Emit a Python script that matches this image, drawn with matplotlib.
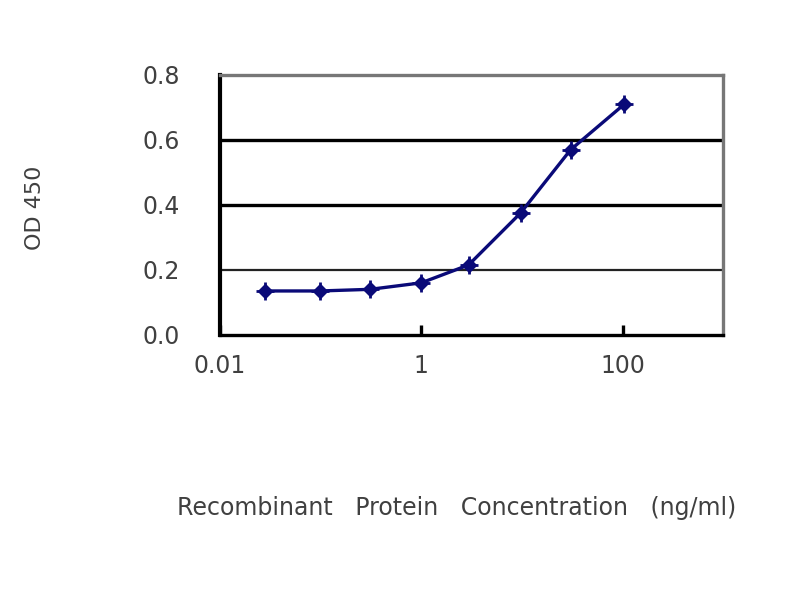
import matplotlib
matplotlib.use("Agg")
import matplotlib.pyplot as plt

# concentrations (ng/ml) and OD 450 readings
conc = [0.028, 0.099, 0.31, 1.0, 2.95, 9.7, 30.5, 104.0]
od450 = [0.135, 0.135, 0.14, 0.16, 0.215, 0.375, 0.57, 0.71]

x_ticks = [0.01, 1, 100]
x_tick_labels = ["0.01", "1", "100"]
y_ticks = [0.0, 0.2, 0.4, 0.6, 0.8]
y_tick_labels = ["0.0", "0.2", "0.4", "0.6", "0.8"]

text_color = "#404040"
navy = "#0a0a78"

fig = plt.figure(figsize=(8, 6), dpi=100)
ax = fig.add_axes([0.275, 0.442, 0.629, 0.433])

# horizontal grid lines
for y in y_ticks[1:-1]:
    if y > 0.3:
        ax.axhline(y, color="black", lw=2.4, zorder=1)
    else:
        ax.axhline(y, color="#222222", lw=1.6, zorder=1)

ax.plot(conc, od450, color=navy, lw=2.4, marker="D", markersize=7,
        markerfacecolor=navy, markeredgecolor=navy, zorder=3)
ax.plot(conc, od450, linestyle="none", marker="+", markersize=13,
        markeredgewidth=2, color=navy, zorder=4)

ax.set_xscale("log")
ax.set_xlim(0.01, 1000)
ax.set_ylim(0, 0.8)
ax.set_xticks(x_ticks)
ax.set_xticklabels(x_tick_labels)
ax.minorticks_off()
ax.set_yticks(y_ticks)
ax.set_yticklabels(y_tick_labels)

ax.tick_params(axis="x", direction="in", length=7, width=2.4, pad=14,
               labelsize=17, labelcolor=text_color)
ax.tick_params(axis="y", length=0, pad=29, labelsize=17, labelcolor=text_color)

ax.spines["left"].set_linewidth(3)
ax.spines["left"].set_color("black")
ax.spines["bottom"].set_linewidth(2.4)
ax.spines["bottom"].set_color("black")
for s in ("top", "right"):
    ax.spines[s].set_linewidth(2.4)
    ax.spines[s].set_color("#777777")

fig.text(0.044, 0.653, "OD 450", rotation=90, ha="center", va="center",
         fontsize=16, color=text_color)
fig.text(0.571, 0.153, "Recombinant   Protein   Concentration   (ng/ml)",
         ha="center", va="center", fontsize=17, color=text_color)

fig.savefig("out.png", dpi=100)
